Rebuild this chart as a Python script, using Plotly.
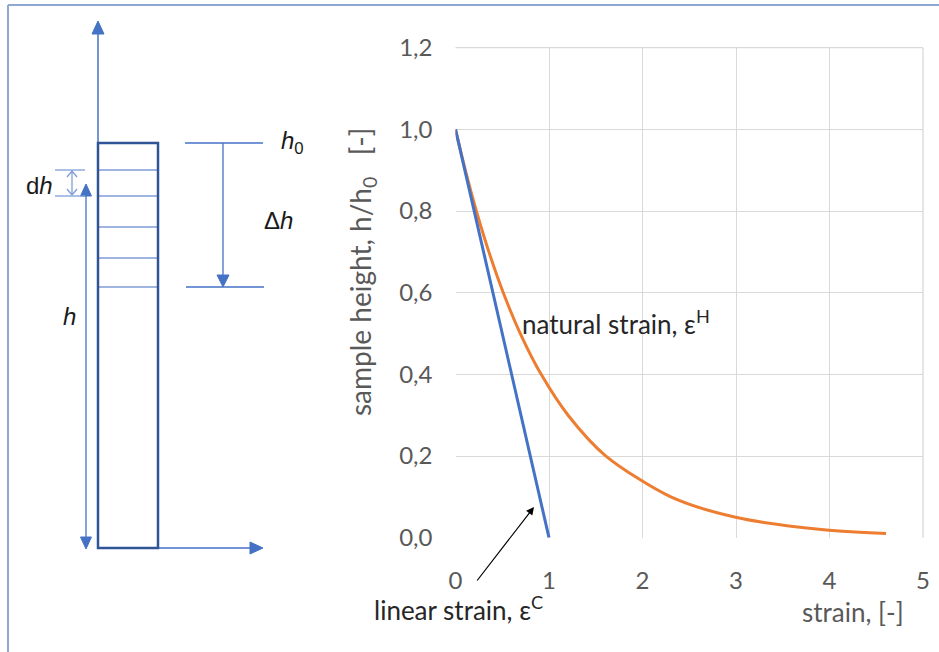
import plotly.graph_objects as go

# ---------------- data ----------------
h_ratio = [1.0, 0.9, 0.8, 0.7, 0.6, 0.5, 0.4, 0.3, 0.2, 0.1, 0.05, 0.02, 0.01]
natural_strain = [0.0, 0.105, 0.223, 0.357, 0.511, 0.693, 0.916, 1.204, 1.609, 2.303, 2.996, 3.912, 4.605]
linear_h = [1.0, 0.8, 0.6, 0.4, 0.2, 0.0]
linear_strain = [0.0, 0.2, 0.4, 0.6, 0.8, 1.0]
x_ticks = [0, 1, 2, 3, 4, 5]
y_ticks = [0.0, 0.2, 0.4, 0.6, 0.8, 1.0, 1.2]

W, H = 939, 652
def X(px):
    return px / W
def Y(py):
    return 1 - py / H

BLUE = "#4472C4"
ORANGE = "#ED7D31"
DARKBLUE = "#2F5597"
LIGHTBLUE = "#7F9CD6"
GRAY = "#595959"
DARK = "#262626"
CHART_FONT = "Lato"
DIAG_FONT = "Liberation Sans"

fig = go.Figure()
fig.add_trace(go.Scatter(x=natural_strain, y=h_ratio, mode="lines",
                         line=dict(color=ORANGE, width=3, shape="spline", smoothing=0.8),
                         showlegend=False))
fig.add_trace(go.Scatter(x=linear_strain, y=linear_h, mode="lines",
                         line=dict(color=BLUE, width=3), showlegend=False))

shapes = []
def line(x0, y0, x1, y1, color=BLUE, width=1.3):
    shapes.append(dict(type="line", xref="paper", yref="paper",
                       x0=X(x0), y0=Y(y0), x1=X(x1), y1=Y(y1),
                       line=dict(color=color, width=width), layer="above"))
def tri(pts, color=BLUE):
    p = "M " + " L ".join(f"{X(a):.5f},{Y(b):.5f}" for a, b in pts) + " Z"
    shapes.append(dict(type="path", xref="paper", yref="paper", path=p,
                       fillcolor=color, line=dict(color=color, width=1), layer="above"))

# frame
line(8, 5, 939, 5, color="#8EA7D3", width=2)
line(8, 5, 8, 652, color="#8EA7D3", width=2)

# vertical axis arrow
line(98, 143, 98, 30, width=1.5)
tri([(98, 21), (92, 34), (104, 34)])
# horizontal axis arrow
line(158, 548, 252, 548, width=1.5)
tri([(263, 548), (250, 542), (250, 554)])
# inner layers
for yy in [170, 196, 227, 258, 287]:
    line(99, yy, 157, yy, color=LIGHTBLUE, width=1.5)
# sample rectangle
shapes.append(dict(type="rect", xref="paper", yref="paper",
                   x0=X(98), y0=Y(548), x1=X(158), y1=Y(143),
                   line=dict(color=DARKBLUE, width=2.5), layer="above"))
# h arrow (double-headed)
line(86, 194, 86, 540, width=1.3)
tri([(86, 184), (80.5, 196), (91.5, 196)])
tri([(86, 549), (80.5, 537), (91.5, 537)])
# dh markers
line(55, 170, 85, 170, color=LIGHTBLUE, width=1.3)
line(55, 196, 85, 196, color=LIGHTBLUE, width=1.3)
line(72, 171, 72, 195, color=LIGHTBLUE, width=1.3)
line(72, 171, 67, 177, color=LIGHTBLUE, width=1.3)
line(72, 171, 77, 177, color=LIGHTBLUE, width=1.3)
line(72, 195, 67, 189, color=LIGHTBLUE, width=1.3)
line(72, 195, 77, 189, color=LIGHTBLUE, width=1.3)
# h0 / delta h
line(185, 143, 263, 143, width=1.3)
line(186, 287, 264, 287, width=1.3)
line(223, 143, 223, 277, width=1.3)
tri([(223, 287), (217, 275), (229, 275)])

annotations = []
def text(t, x, y, size, color, font, xanchor="center", yanchor="middle", angle=0):
    annotations.append(dict(text=t, x=X(x), y=Y(y), xref="paper", yref="paper",
                            showarrow=False, xanchor=xanchor, yanchor=yanchor,
                            textangle=angle,
                            font=dict(size=size, color=color, family=font)))

text("d<i>h</i>", 24, 185, 24, "#1a1a1a", DIAG_FONT, xanchor="left")
text("<i>h</i>", 69, 316, 24, "#1a1a1a", DIAG_FONT)
text("<i>h</i><sub>0</sub>", 279, 143, 24, "#1a1a1a", DIAG_FONT, xanchor="left")
text("Δ<i>h</i>", 262, 221, 24, "#1a1a1a", DIAG_FONT, xanchor="left")

# chart texts
text("sample height, h/h<sub>0</sub>&nbsp;&nbsp;&nbsp;[-]", 362, 272, 28, GRAY, CHART_FONT, angle=-90)
text("strain, [-]", 906, 612, 26, GRAY, CHART_FONT, xanchor="right")
text("natural strain, ε<sup>H</sup>", 520, 322, 26, DARK, CHART_FONT, xanchor="left")
text("linear strain, ε<sup>C</sup>", 372, 608, 26, DARK, CHART_FONT, xanchor="left")

annotations.append(dict(text="", x=X(534), y=Y(507), xref="paper", yref="paper",
                        ax=476 - 534, ay=582 - 507, axref="pixel", ayref="pixel",
                        showarrow=True, arrowhead=2, arrowsize=1.3, arrowwidth=1.2,
                        arrowcolor="#000000"))

fig.update_layout(
    width=W, height=H,
    margin=dict(l=0, r=0, t=0, b=0, autoexpand=False),
    paper_bgcolor="white", plot_bgcolor="white",
    separators=", ",
    showlegend=False,
    shapes=shapes, annotations=annotations,
    xaxis=dict(domain=[X(455.5), X(923)], range=[0, 5], tickvals=x_ticks,
               showgrid=True, gridcolor="#D9D9D9", gridwidth=1.3,
               zeroline=False, showline=False, ticks="", automargin=False,
               ticklabelstandoff=26,
               tickfont=dict(family=CHART_FONT, size=24, color=GRAY)),
    yaxis=dict(domain=[Y(537.7), Y(47.7)], range=[0, 1.2], tickvals=y_ticks,
               tickformat=".1f",
               showgrid=True, gridcolor="#D9D9D9", gridwidth=1.3,
               zeroline=False, showline=False, ticks="", automargin=False,
               ticklabelstandoff=22,
               tickfont=dict(family=CHART_FONT, size=24, color=GRAY)),
)
fig.add_shape(type="line", xref="paper", yref="paper", x0=X(923), x1=X(923),
              y0=Y(537.7), y1=Y(47.7), line=dict(color="#D9D9D9", width=1.3), layer="below")
fig.add_shape(type="line", xref="paper", yref="paper", x0=X(455.5), x1=X(923),
              y0=Y(47.7), y1=Y(47.7), line=dict(color="#D9D9D9", width=1.3), layer="below")

fig.write_html("out.html")
